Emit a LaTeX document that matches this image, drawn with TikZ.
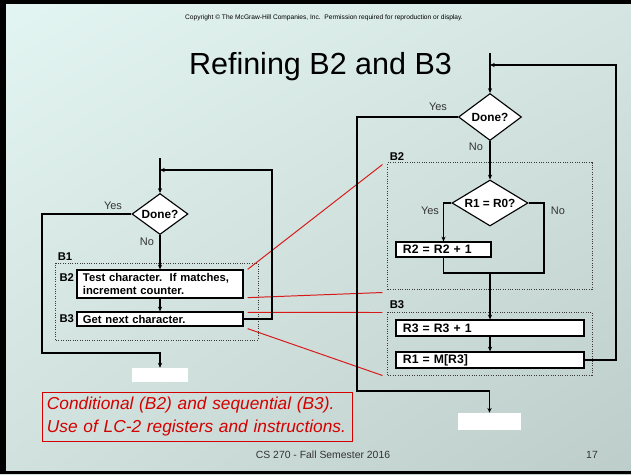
\documentclass[tikz,border=0pt]{standalone}
\usepackage{fontspec}
\setmainfont{Liberation Sans}
\usetikzlibrary{arrows.meta,calc,shapes.geometric,shadings}
\definecolor{slidetl}{HTML}{E3F5F2}
\definecolor{slidetr}{HTML}{D5E6E2}
\definecolor{slidebl}{HTML}{D1E1DD}
\definecolor{slidebr}{HTML}{BDCDC9}
\definecolor{notered}{HTML}{D40000}
\definecolor{labelgray}{HTML}{333333}
\definecolor{dotgray}{HTML}{3A3A3A}
\tikzset{
    every node/.style={inner sep=1pt},
    flow/.style={draw=black,line width=0.75pt},
    arrow/.style={flow,-{Stealth[length=3.4pt,width=3pt]}},
    decision/.style={diamond,draw=black,fill=white,line width=0.8pt,inner sep=0pt,font=\fontsize{8.4}{9}\selectfont\bfseries},
    stepbox/.style={rectangle,draw=black,fill=white,line width=0.9pt,inner xsep=0.15cm,inner ysep=0.5pt,align=left,font=\fontsize{8}{8.6}\selectfont\bfseries},
    regbox/.style={stepbox,inner xsep=0.175cm,font=\fontsize{8.7}{9}\selectfont\bfseries},
    group/.style={rectangle,draw=dotgray,densely dotted,line width=0.7pt},
    tag/.style={inner sep=1.5pt,font=\fontsize{8}{9}\selectfont\bfseries},
    answer/.style={text=labelgray,font=\fontsize{7.8}{9}\selectfont},
    exitbox/.style={rectangle,fill=white,inner sep=0pt},
    zoomline/.style={draw=notered!90,line width=0.7pt},
    notebox/.style={rectangle,draw=notered,line width=0.6pt,text=notered,align=left,inner xsep=0.125cm,
        text width=7.5cm,minimum height=1.225cm,font=\fontsize{12.3}{16.4}\selectfont\itshape},
    footer/.style={text=labelgray,font=\fontsize{7.4}{9}\selectfont}
}

\begin{document}
\begin{tikzpicture}[x=0.025cm,y=-0.025cm]
\useasboundingbox (0,0) rectangle (631,474);
\shade[upper left=slidetl,upper right=slidetr,lower left=slidebl,lower right=slidebr] (0,0) rectangle (631,474);
\fill[black] (0,0) rectangle (631,4);
\fill[black] (0,0) rectangle (6,474);
\fill[black] (0,471) rectangle (631,474);

\node[font=\fontsize{4.7}{5}\selectfont] (copy) at (324,18)
    {Copyright © The McGraw-Hill Companies, Inc.\ \ Permission required for reproduction or display.};
\node[anchor=base,font=\fontsize{21.7}{24}\selectfont] (title) at (320.5,74) {Refining B2 and B3};

% left chart
\node[decision,aspect=1.37,minimum width=1.4cm,minimum height=1.025cm] (doneL) at (160,214) {Done?};
\node[group,minimum width=5.05cm,minimum height=1.925cm] (grpB1) at (157,301.5) {};
\node[stepbox,text width=3.85cm,minimum height=0.7cm] (testL) at (160,284) {Test character.\ \ If matches,\\increment counter.};
\node[stepbox,text width=3.85cm,minimum height=0.35cm] (nextL) at (160,319) {Get next character.};
\node[exitbox,minimum width=1.4cm,minimum height=0.35cm] (exitL) at (160,375) {};
\node[tag,anchor=south west] (tagB1) at (grpB1.north west) {B1};
\node[tag,anchor=east] (tagB2L) at ($(testL.north west)+(0,8)$) {B2};
\node[tag,anchor=east] (tagB3L) at (nextL.west) {B3};
\node[answer] (yesL) at (113,206) {Yes};
\node[answer] (noL) at (147,242) {No};
\coordinate (inL) at (160,158);
\coordinate (joinL) at (160,170);
\coordinate (backL) at (272,170);
\coordinate (cornerL) at (42,353);

% right chart
\node[decision,aspect=1.34,minimum width=1.575cm,minimum height=1.175cm] (doneR) at (490,117) {Done?};
\node[group,minimum width=5.1cm,minimum height=3.15cm] (grpB2) at (490,226) {};
\node[group,minimum width=5.1cm,minimum height=1.575cm] (grpB3) at (490,343.5) {};
\node[decision,aspect=1.65,minimum width=1.9cm,minimum height=1.15cm] (cmpR) at (490,203) {R1 = R0?};
\node[regbox,text width=2.025cm,minimum height=0.375cm] (incR2) at (443.5,249.5) {R2 = R2 + 1};
\node[regbox,text width=4.35cm,minimum height=0.4cm] (incR3) at (490,328) {R3 = R3 + 1};
\node[regbox,text width=4.35cm,minimum height=0.4cm] (loadR1) at (490,360) {R1 = M[R3]};
\node[exitbox,minimum width=1.575cm,minimum height=0.425cm] (exitR) at (489.5,421.5) {};
\node[tag,anchor=south west] (tagB2R) at (grpB2.north west) {B2};
\node[tag,anchor=south west] (tagB3R) at (grpB3.north west) {B3};
\node[answer] (yesR) at (438,107) {Yes};
\node[answer] (noR) at (476,147) {No};
\node[answer] (yesC) at (430,211) {Yes};
\node[answer] (noC) at (558,211) {No};
\coordinate (inR) at (490,53);
\coordinate (joinR) at (490,65);
\coordinate (backR) at (616,65);
\coordinate (cornerR) at (357,391);
\coordinate (sideC) at (544,273);
\coordinate (mergeR) at (490,273);

\draw[zoomline] ($(testL.north east)+(4,0)$) -- ($(grpB2.north west)+(-5,2)$);
\draw[zoomline] ($(testL.south east)+(4,-1)$) -- ($(grpB2.south west)+(-5,3)$);
\draw[zoomline] ($(nextL.north east)+(4,1)$) -- ($(grpB3.north west)+(-5,1)$);
\draw[zoomline] ($(nextL.south east)+(4,2)$) -- ($(grpB3.south west)+(-5,0)$);

\draw[arrow] (inL) -- (doneL.north);
\draw[arrow] (nextL.east) -| (backL) -- (joinL);
\draw[arrow] (doneL.west) -| (cornerL) -| (exitL.north);
\draw[arrow] (doneL.south) -- (testL.north);
\draw[arrow] (testL.south) -- (nextL.north);

\draw[arrow] (inR) -- (doneR.north);
\draw[arrow] (loadR1.east) -| (backR) -- (joinR);
\draw[arrow] (doneR.west) -| (cornerR) -| (exitR.north);
\draw[arrow] (doneR.south) -- (cmpR.north);
\draw[arrow] (cmpR.west) -| (incR2.north);
\draw[flow] (cmpR.east) -| (sideC) -- (mergeR);
\draw[flow] (incR2.south) |- (mergeR);
\draw[arrow] (mergeR) -- (incR3.north);
\draw[arrow] (incR3.south) -- (loadR1.north);

\node[notebox] (note) at (197,416.5) {Conditional (B2) and sequential (B3).\\Use of LC-2 registers and instructions.};
\node[footer] (course) at (323,455) {CS 270 - Fall Semester 2016};
\node[footer] (page) at (592,455) {17};
\end{tikzpicture}
\end{document}
